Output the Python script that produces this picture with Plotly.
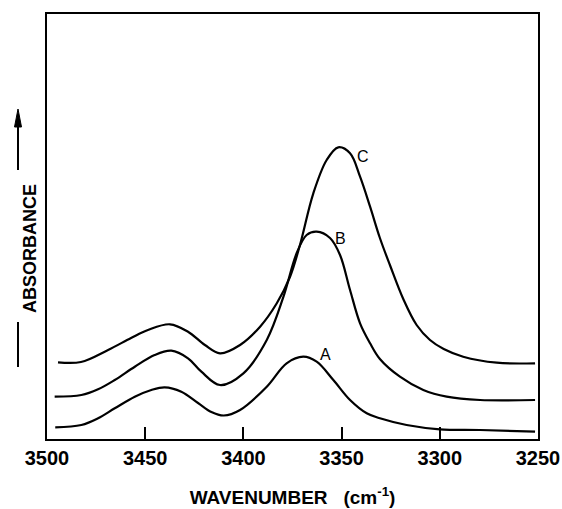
import plotly.graph_objects as go

# Wavenumber (cm^-1) and absorbance (arbitrary units)
wn_C = [3494.4, 3482.7, 3468.9, 3457.2, 3448.6, 3437.4, 3428.2, 3419.6, 3411.9, 3401.7,
        3391.5, 3383.0, 3376.3, 3371.2, 3364.4, 3357.6, 3351.7, 3345.7, 3340.6, 3335.5,
        3330.5, 3325.4, 3318.6, 3311.8, 3305.0, 3298.0, 3288.1, 3271.0, 3251.5]
abs_C = [0.767, 0.770, 0.890, 1.010, 1.090, 1.147, 1.073, 0.940, 0.857, 0.940,
         1.123, 1.357, 1.620, 1.940, 2.457, 2.790, 2.917, 2.857, 2.623, 2.323,
         2.010, 1.740, 1.400, 1.140, 0.990, 0.900, 0.823, 0.763, 0.757]

wn_B = [3496.1, 3482.5, 3474.0, 3465.5, 3455.3, 3445.2, 3436.7, 3428.2, 3421.4, 3411.9,
        3400.0, 3388.1, 3379.6, 3372.9, 3367.8, 3362.7, 3355.9, 3350.8, 3345.7, 3340.6,
        3335.5, 3330.5, 3320.3, 3308.4, 3296.5, 3279.5, 3251.5]
abs_B = [0.423, 0.440, 0.497, 0.590, 0.723, 0.840, 0.883, 0.807, 0.673, 0.540,
         0.657, 0.990, 1.423, 1.857, 2.040, 2.073, 2.010, 1.840, 1.490, 1.157,
         0.957, 0.800, 0.623, 0.490, 0.423, 0.390, 0.390]

wn_A = [3495.8, 3482.5, 3474.0, 3465.5, 3455.3, 3446.9, 3440.1, 3431.6, 3423.1, 3416.3,
        3410.0, 3401.7, 3388.1, 3378.0, 3369.5, 3362.7, 3354.2, 3345.7, 3337.2, 3330.5,
        3316.9, 3300.0, 3279.5, 3251.5]
abs_A = [0.117, 0.140, 0.207, 0.307, 0.423, 0.490, 0.517, 0.473, 0.360, 0.270,
         0.235, 0.290, 0.523, 0.757, 0.823, 0.773, 0.590, 0.390, 0.257, 0.207,
         0.140, 0.097, 0.090, 0.073]

curve_names = ["A", "B", "C"]
label_x = [3358.4, 3350.8, 3338.9]
label_y = [0.850, 2.007, 2.830]

tick_vals = [3500, 3450, 3400, 3350, 3300, 3250]
tick_text = ["3500", "3450", "3400", "3350", "3300", "3250"]

FONT = "Liberation Sans, Arial, sans-serif"

fig = go.Figure()
for wn, ab, nm in [(wn_A, abs_A, "A"), (wn_B, abs_B, "B"), (wn_C, abs_C, "C")]:
    fig.add_trace(go.Scatter(x=wn, y=ab, mode="lines", name=nm,
                             line=dict(color="black", width=2.2, shape="spline", smoothing=1.0),
                             showlegend=False, hoverinfo="skip"))

for nm, lx, ly in zip(curve_names, label_x, label_y):
    fig.add_annotation(x=lx, y=ly, text=nm, showarrow=False,
                       font=dict(family=FONT, size=16, color="black"))

# Y-axis label with lines and arrow (paper coords; plot area px: left 47, width 491, top 14, height 425)
def px_x(px):
    return (px - 47) / 491

def px_y(py):
    return (439 - py) / 425

fig.add_annotation(xref="paper", yref="paper", x=px_x(18), y=px_y(249), text="<b>ABSORBANCE</b>",
                   textangle=-90, showarrow=False, font=dict(family=FONT, size=18, color="black"))
fig.add_shape(type="line", xref="paper", yref="paper", x0=px_x(18), x1=px_x(18),
              y0=px_y(322), y1=px_y(367), line=dict(color="black", width=2))
fig.add_shape(type="line", xref="paper", yref="paper", x0=px_x(18), x1=px_x(18),
              y0=px_y(170), y1=px_y(122), line=dict(color="black", width=2))
fig.add_shape(type="path", xref="paper", yref="paper",
              path=f"M {px_x(14.5)} {px_y(127)} L {px_x(21.5)} {px_y(127)} L {px_x(18)} {px_y(109)} Z",
              fillcolor="black", line=dict(color="black", width=1))

fig.update_xaxes(range=[3500, 3250], tickvals=tick_vals, ticktext=tick_text,
                 ticks="inside", ticklen=12, tickwidth=2, tickcolor="black",
                 showline=True, linecolor="black", linewidth=2, mirror=True,
                 showgrid=False, zeroline=False, automargin=False,
                 tickfont=dict(family=FONT, size=20, color="black", weight="bold"),
                 title=dict(text="<b>WAVENUMBER&nbsp;&nbsp;&nbsp;(cm<sup>-1</sup>)</b>",
                            font=dict(family=FONT, size=19, color="black"), standoff=23))
fig.update_yaxes(range=[0, 4.25], showticklabels=False, ticks="",
                 showline=True, linecolor="black", linewidth=2, mirror=True,
                 showgrid=False, zeroline=False, automargin=False)

fig.update_layout(width=562, height=509, margin=dict(l=47, r=24, t=14, b=70),
                  plot_bgcolor="white", paper_bgcolor="white")

fig.write_html("out.html")
